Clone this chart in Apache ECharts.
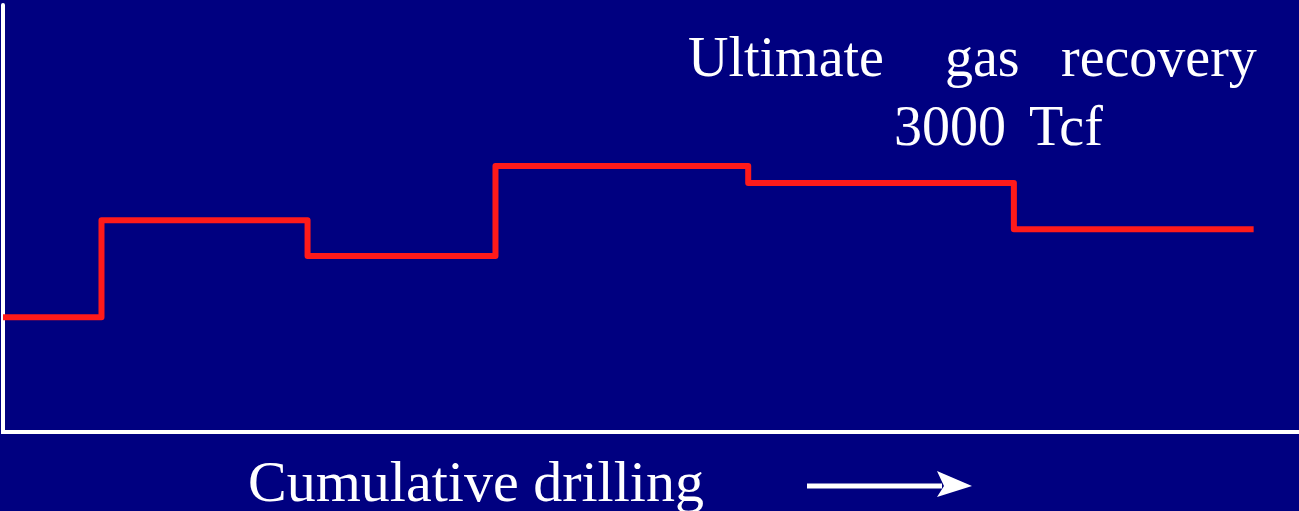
<!DOCTYPE html>
<html>
<head>
<meta charset="utf-8">
<script src="https://cdn.jsdelivr.net/npm/echarts@6/dist/echarts.min.js"></script>
<style>
  html, body { margin: 0; padding: 0; background: #000080; }
  #chart { width: 1299px; height: 511px; }
</style>
</head>
<body>
<div id="chart"></div>
<script>
// Cumulative drilling (relative units) where the recovery level changes
const drillingSteps = [0, 7.6, 23.5, 38.0, 57.5, 78.0, 96.5];
// Estimated recovery level for each drilling stage (relative units)
const recoveryLevels = [26.9, 49.6, 41.2, 62.3, 58.3, 47.5, 47.5];

const headingWords = ['Ultimate', 'gas', 'recovery'];
const headingValue = ['3000', 'Tcf'];
const xAxisTitle = 'Cumulative drilling';

const serif = '"Liberation Serif", "Times New Roman", serif';
const white = '#ffffff';

const chart = echarts.init(document.getElementById('chart'), null, { renderer: 'canvas' });

const stepData = drillingSteps.map((x, i) => [x, recoveryLevels[i]]);

chart.setOption({
  backgroundColor: '#000080',
  animation: false,
  grid: { left: 3, right: 0, top: 5, bottom: 79, containLabel: false },
  xAxis: {
    type: 'value', min: 0, max: 100,
    axisLine: { show: true, onZero: false, lineStyle: { color: white, width: 4, cap: 'square' } },
    axisTick: { show: false }, axisLabel: { show: false }, splitLine: { show: false }
  },
  yAxis: {
    type: 'value', min: 0, max: 100,
    axisLine: { show: true, onZero: false, lineStyle: { color: white, width: 4 } },
    axisTick: { show: false }, axisLabel: { show: false }, splitLine: { show: false }
  },
  series: [{
    type: 'line',
    step: 'end',
    data: stepData,
    symbol: 'none',
    lineStyle: { color: '#ff1a1a', width: 6, join: 'round', cap: 'butt' }
  }],
  graphic: [
    { type: 'text', left: 688, top: 33, style: { text: headingWords[0], font: '56px ' + serif, fill: white } },
    { type: 'text', left: 945, top: 33, style: { text: headingWords[1], font: '56px ' + serif, fill: white } },
    { type: 'text', left: 1061, top: 33, style: { text: headingWords[2], font: '56px ' + serif, fill: white } },
    { type: 'text', left: 894, top: 102, style: { text: headingValue[0], font: '56px ' + serif, fill: white } },
    { type: 'text', left: 1029, top: 102, style: { text: headingValue[1], font: '56px ' + serif, fill: white } },
    { type: 'text', left: 248, top: 457, style: { text: xAxisTitle, font: '58px ' + serif, fill: white } },
    // direction arrow beside the axis title
    { type: 'rect', shape: { x: 807, y: 483.5, width: 135, height: 5 }, style: { fill: white } },
    { type: 'polygon', shape: { points: [[937, 471], [972, 486], [937, 497], [944, 486]] }, style: { fill: white } }
  ]
});
</script>
</body>
</html>
